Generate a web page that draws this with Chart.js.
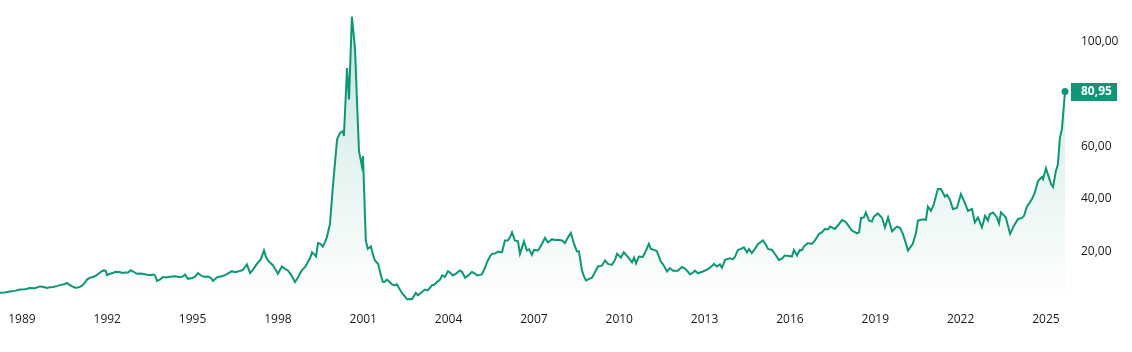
<!DOCTYPE html>
<html>
<head>
<meta charset="utf-8">
<script src="https://cdn.jsdelivr.net/npm/chart.js@4.4.1/dist/chart.umd.min.js"></script>
<style>
  html, body { margin: 0; padding: 0; background: #ffffff; }
  #wrap { width: 1132px; height: 352px; position: relative; }
</style>
</head>
<body>
<div id="wrap"><canvas id="c" width="1132" height="352"></canvas></div>
<script>
// Dates as decimal years
const dates = [
1988.23,1988.40,1988.58,1988.75,1988.93,1989.11,1989.28,1989.46,1989.63,1989.77,1989.88,1989.99,
1990.09,1990.23,1990.34,1990.48,1990.58,1990.69,1990.76,1990.86,1990.93,1991.04,1991.11,1991.22,
1991.29,1991.39,1991.50,1991.60,1991.74,1991.81,1991.88,1991.95,1991.99,1992.09,1992.20,1992.27,
1992.38,1992.45,1992.55,1992.62,1992.73,1992.83,1992.94,1993.04,1993.15,1993.22,1993.33,1993.40,
1993.50,1993.61,1993.68,1993.75,1993.85,1993.96,1994.06,1994.20,1994.38,1994.56,1994.66,1994.73,
1994.84,1994.98,1995.08,1995.19,1995.33,1995.43,1995.54,1995.65,1995.72,1995.82,1995.89,1996.03,
1996.14,1996.24,1996.38,1996.49,1996.56,1996.66,1996.77,1996.84,1996.91,1997.02,1997.12,1997.26,
1997.40,1997.51,1997.58,1997.65,1997.75,1997.83,1997.93,1998.00,1998.07,1998.14,1998.25,1998.35,
1998.46,1998.53,1998.60,1998.70,1998.77,1998.84,1998.95,1999.02,1999.13,1999.20,1999.27,1999.34,
1999.41,1999.48,1999.58,1999.65,1999.72,1999.83,1999.93,2000.00,2000.08,2000.18,2000.29,2000.32,
2000.43,2000.50,2000.60,2000.71,2000.78,2000.85,2000.95,2000.99,2001.09,2001.16,2001.27,2001.34,
2001.41,2001.52,2001.62,2001.69,2001.76,2001.83,2001.94,2002.01,2002.11,2002.18,2002.25,2002.36,
2002.47,2002.54,2002.64,2002.71,2002.78,2002.85,2002.92,2003.03,2003.17,2003.27,2003.41,2003.49,
2003.59,2003.70,2003.77,2003.87,2003.98,2004.05,2004.15,2004.26,2004.40,2004.47,2004.58,2004.68,
2004.82,2004.93,2005.00,2005.10,2005.17,2005.28,2005.35,2005.45,2005.52,2005.63,2005.74,2005.81,
2005.88,2005.98,2006.09,2006.16,2006.23,2006.33,2006.44,2006.51,2006.58,2006.65,2006.75,2006.83,
2006.93,2007.00,2007.14,2007.21,2007.28,2007.39,2007.49,2007.56,2007.63,2007.74,2007.84,2007.99,
2008.09,2008.20,2008.30,2008.41,2008.51,2008.58,2008.69,2008.76,2008.83,2008.93,2009.04,2009.15,
2009.25,2009.39,2009.50,2009.60,2009.74,2009.85,2009.92,2010.06,2010.16,2010.31,2010.45,2010.52,
2010.59,2010.69,2010.83,2010.94,2011.04,2011.11,2011.18,2011.32,2011.47,2011.54,2011.68,2011.78,
2011.89,2012.06,2012.20,2012.31,2012.38,2012.49,2012.59,2012.66,2012.77,2012.94,2013.12,2013.26,
2013.33,2013.43,2013.54,2013.61,2013.72,2013.89,2014.00,2014.07,2014.17,2014.28,2014.38,2014.49,
2014.56,2014.66,2014.77,2014.88,2015.05,2015.16,2015.23,2015.37,2015.51,2015.61,2015.72,2015.82,
2015.97,2016.07,2016.14,2016.25,2016.35,2016.42,2016.49,2016.63,2016.77,2016.88,2017.02,2017.13,
2017.23,2017.34,2017.41,2017.58,2017.69,2017.83,2017.93,2018.00,2018.11,2018.18,2018.36,2018.43,
2018.50,2018.60,2018.67,2018.78,2018.88,2018.95,2019.09,2019.24,2019.34,2019.45,2019.59,2019.76,
2019.87,2019.97,2020.08,2020.15,2020.32,2020.43,2020.50,2020.68,2020.78,2020.85,2020.96,2021.06,
2021.20,2021.31,2021.45,2021.52,2021.63,2021.73,2021.87,2022.01,2022.12,2022.26,2022.40,2022.50,
2022.61,2022.75,2022.86,2022.96,2023.03,2023.14,2023.28,2023.35,2023.42,2023.59,2023.74,2023.88,
2024.02,2024.16,2024.23,2024.33,2024.51,2024.61,2024.72,2024.86,2024.90,2025.00,2025.07,2025.18,
2025.25,2025.35,2025.42,2025.49,2025.56,2025.67
];
const values = [
4.3,4.4,4.8,5.0,5.5,5.6,6.1,6.0,6.7,6.5,6.1,6.4,
6.5,6.8,7.2,7.5,8.0,7.2,6.7,6.3,6.2,6.5,7.0,8.2,
9.3,10.0,10.3,10.8,11.9,12.5,12.8,12.6,11.0,11.5,11.8,12.2,
12.3,12.1,11.8,12.0,12.0,12.9,12.2,11.5,11.6,11.5,11.3,11.1,
11.0,11.2,10.9,8.8,9.3,10.3,10.1,10.4,10.6,10.2,10.5,11.2,
9.6,9.9,10.3,11.8,10.6,10.4,10.5,9.9,8.8,9.8,10.3,10.6,
11.0,11.6,12.5,12.1,12.3,12.6,13.0,14.0,15.1,11.8,13.0,15.3,
17.1,20.4,18.0,16.6,15.5,14.7,12.9,11.5,13.0,14.3,13.4,12.8,
11.2,9.8,8.4,10.0,11.5,12.8,14.0,15.3,17.5,19.7,19.0,18.1,
23.2,23.0,21.9,23.5,25.4,30.5,44.4,53.0,62.7,65.2,65.9,64.0,
89.9,77.9,109.5,97.5,77.3,58.3,52.6,56.4,24.2,21.0,21.9,19.0,
16.6,15.3,11.0,8.4,8.5,9.3,8.3,7.5,7.1,7.5,6.2,4.2,
2.8,1.8,1.9,1.8,3.0,4.2,3.3,4.3,5.5,5.2,7.1,7.3,
8.4,9.3,10.9,10.3,12.5,12.0,10.9,11.6,12.8,12.3,10.0,10.8,
12.2,11.6,10.9,11.1,11.3,13.8,15.9,18.0,19.1,19.2,20.0,19.7,
19.8,24.2,24.3,25.5,27.3,24.2,23.9,19.1,21.5,23.9,20.4,20.8,
18.7,20.6,20.4,21.5,22.9,25.2,23.5,24.0,24.7,24.4,24.5,24.2,
23.2,25.4,27.1,22.9,20.1,20.1,12.8,10.5,9.0,9.5,10.0,12.2,
14.3,14.6,16.6,15.3,14.9,16.8,19.1,17.7,19.7,17.9,15.9,17.7,
15.5,18.1,17.9,20.4,22.9,21.0,20.8,20.2,15.9,15.1,12.4,13.7,
12.7,12.7,14.1,13.5,12.7,11.3,12.0,12.7,11.7,12.4,13.3,14.5,
15.3,14.3,15.1,13.8,16.8,17.4,17.1,18.0,20.6,21.0,21.6,19.7,
20.9,19.4,21.0,22.9,24.2,22.5,21.0,20.6,18.5,16.8,17.3,18.5,
18.3,18.1,20.6,18.5,20.6,20.5,21.9,23.2,22.9,24.2,26.7,27.4,
28.6,28.4,29.5,28.6,30.0,32.0,31.5,30.7,29.0,28.0,26.9,27.3,
32.8,33.0,34.9,31.8,31.4,33.3,34.5,32.8,29.2,33.0,27.7,29.5,
29.0,26.7,23.0,20.4,22.9,27.0,31.8,32.3,32.0,37.1,35.5,38.1,
43.8,43.8,40.9,41.6,39.6,36.2,36.6,41.9,39.3,35.5,36.2,31.1,
33.0,29.2,33.6,31.8,34.3,34.9,33.0,30.7,34.9,33.0,26.7,29.9,
32.4,32.8,33.6,37.1,40.0,42.5,46.9,48.4,47.6,51.7,49.4,45.7,
44.6,50.7,53.2,63.3,66.5,80.95
];
const yearTicks = [1989,1992,1995,1998,2001,2004,2007,2010,2013,2016,2019,2022,2025];
const valueTicks = [20,40,60,80,100];

const GREEN = '#0e9677';
const fmt = v => v.toFixed(2).replace('.', ',');

const badgePlugin = {
  id: 'lastBadge',
  afterDraw(chart) {
    const ctx = chart.ctx;
    const ys = chart.scales.y;
    const last = values[values.length - 1];
    const py = ys.getPixelForValue(last);
    const left = chart.chartArea.right + 6;
    ctx.save();
    ctx.fillStyle = GREEN;
    ctx.fillRect(left, Math.round(py - 9), 46, 18);
    ctx.fillStyle = '#ffffff';
    ctx.font = 'bold 12px "Open Sans"';
    ctx.textBaseline = 'middle';
    ctx.textAlign = 'left';
    ctx.fillText(fmt(last), left + 10, py + 0.5);
    ctx.restore();
  }
};

const ctx = document.getElementById('c').getContext('2d');
new Chart(ctx, {
  type: 'line',
  data: {
    datasets: [{
      data: dates.map((d, i) => ({ x: d, y: values[i] })),
      borderColor: GREEN,
      borderWidth: 2,
      tension: 0,
      clip: false,
      fill: 'origin',
      backgroundColor: (c) => {
        const a = c.chart.chartArea;
        if (!a) return 'rgba(14,150,119,0.1)';
        const g = c.chart.ctx.createLinearGradient(0, 10, 0, a.bottom);
        g.addColorStop(0, 'rgba(14,150,119,0.26)');
        g.addColorStop(0.55, 'rgba(14,150,119,0.10)');
        g.addColorStop(1, 'rgba(14,150,119,0.0)');
        return g;
      },
      pointRadius: values.map((v, i) => i === values.length - 1 ? 3.5 : 0),
      pointBackgroundColor: GREEN,
      pointBorderWidth: 0,
      pointHoverRadius: 0
    }]
  },
  options: {
    responsive: false,
    animation: false,
    events: [],
    layout: { autoPadding: false, padding: { left: 0, right: 0, top: 0, bottom: 0 } },
    plugins: { legend: { display: false }, tooltip: { enabled: false } },
    scales: {
      x: {
        type: 'linear',
        min: dates[0],
        max: dates[dates.length - 1],
        grid: { display: false, drawTicks: false },
        border: { display: false },
        afterBuildTicks: s => { s.ticks = yearTicks.map(v => ({ value: v })); },
        afterFit: s => { s.height = 48; },
        ticks: {
          autoSkip: false, maxRotation: 0, padding: 8,
          color: '#1a1a1a',
          font: { family: '"Open Sans"', size: 12 },
          callback: v => String(v)
        }
      },
      y: {
        position: 'right',
        min: 0,
        max: 107,
        grid: { display: false, drawTicks: false },
        border: { display: false },
        afterBuildTicks: s => { s.ticks = valueTicks.map(v => ({ value: v })); },
        afterFit: s => { s.width = 67; },
        ticks: {
          padding: 16,
          color: '#1a1a1a',
          font: { family: '"Open Sans"', size: 12 },
          callback: v => fmt(v)
        }
      }
    }
  },
  plugins: [badgePlugin]
});
</script>
</body>
</html>
